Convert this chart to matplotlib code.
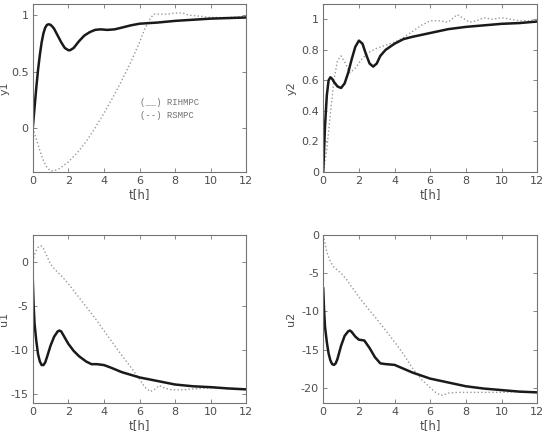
import matplotlib.pyplot as plt

# y1
t_y1_a = [0, 0.1, 0.2, 0.3, 0.4, 0.5, 0.6, 0.7, 0.8, 0.9, 1.0, 1.1, 1.2, 1.4, 1.6, 1.8, 2.0, 2.1, 2.3, 2.6,
          2.9, 3.2, 3.5, 3.8, 4.2, 4.6, 5.0, 5.5, 6.0, 7, 8, 9, 10, 11, 12]
y1_a = [0, 0.18, 0.36, 0.52, 0.65, 0.76, 0.84, 0.89, 0.915, 0.92, 0.915, 0.9, 0.88, 0.82, 0.76, 0.71, 0.69,
        0.69, 0.71, 0.77, 0.82, 0.85, 0.87, 0.875, 0.87, 0.875, 0.89, 0.91, 0.925, 0.935, 0.95, 0.96, 0.97,
        0.975, 0.98]
t_y1_b = [0, 0.2, 0.4, 0.6, 0.8, 1.0, 1.2, 1.5, 2.0, 2.5, 3.0, 3.5, 4.0, 4.5, 5.0, 5.5, 6.0, 6.3, 6.6, 6.8,
          7.2, 7.6, 8.0, 8.4, 8.8, 9.5, 10, 11, 12]
y1_b = [0, -0.1, -0.2, -0.29, -0.35, -0.38, -0.38, -0.36, -0.3, -0.22, -0.12, 0.0, 0.13, 0.27, 0.42, 0.58,
        0.76, 0.88, 0.97, 1.01, 1.01, 1.01, 1.02, 1.02, 1.0, 0.99, 0.98, 0.98, 0.99]

# y2
t_y2_a = [0, 0.05, 0.1, 0.2, 0.3, 0.4, 0.5, 0.6, 0.8, 1.0, 1.2, 1.4, 1.6, 1.8, 2.0, 2.2, 2.4, 2.6, 2.8, 3.0,
          3.2, 3.5, 4.0, 4.5, 5, 6, 7, 8, 9, 10, 11, 12]
y2_a = [0, 0.15, 0.3, 0.5, 0.6, 0.62, 0.61, 0.59, 0.56, 0.55, 0.58, 0.65, 0.74, 0.82, 0.86, 0.84, 0.77, 0.71,
        0.69, 0.71, 0.76, 0.80, 0.84, 0.87, 0.885, 0.91, 0.935, 0.95, 0.96, 0.97, 0.975, 0.985]
t_y2_b = [0, 0.2, 0.4, 0.6, 0.8, 1.0, 1.2, 1.5, 1.8, 2.1, 2.5, 3.0, 3.5, 4.0, 4.5, 5.0, 5.5, 6.0, 6.5, 7.0,
          7.3, 7.5, 7.8, 8.2, 8.6, 9.0, 9.5, 10, 10.5, 11, 11.5, 12]
y2_b = [0, 0.15, 0.38, 0.6, 0.73, 0.76, 0.72, 0.65, 0.68, 0.73, 0.78, 0.81, 0.83, 0.85, 0.88, 0.92, 0.96, 0.99,
        0.99, 0.98, 1.01, 1.03, 1.01, 0.98, 0.99, 1.01, 1.0, 1.01, 1.0, 0.99, 0.99, 1.0]

# u1
t_u1_a = [0, 0.05, 0.1, 0.2, 0.3, 0.4, 0.5, 0.6, 0.7, 0.8, 1.0, 1.2, 1.4, 1.5, 1.6, 1.8, 2.0, 2.3, 2.6, 3.0,
          3.3, 3.6, 4.0, 4.4, 5, 6, 7, 8, 9, 10, 11, 12]
u1_a = [-2, -5, -7, -9, -10.5, -11.3, -11.7, -11.7, -11.4, -10.8, -9.5, -8.5, -7.9, -7.8, -7.9, -8.6, -9.3,
        -10.1, -10.7, -11.3, -11.6, -11.6, -11.7, -12.0, -12.5, -13.1, -13.5, -13.9, -14.1, -14.2, -14.35, -14.45]
t_u1_b = [0, 0.1, 0.2, 0.3, 0.45, 0.6, 0.8, 1.0, 1.3, 1.6, 2.0, 2.5, 3.0, 3.5, 4.0, 4.5, 5.0, 5.5, 6.0, 6.3,
          6.6, 6.9, 7.1, 7.4, 7.8, 8.5, 9.0, 10, 11, 12]
u1_b = [0, 0.8, 1.3, 1.6, 1.8, 1.5, 0.6, -0.3, -1.0, -1.6, -2.5, -3.8, -5.1, -6.4, -7.8, -9.2, -10.6, -11.9,
        -13.3, -14.2, -14.7, -14.4, -14.0, -14.3, -14.5, -14.5, -14.4, -14.3, -14.3, -14.4]

# u2
t_u2_a = [0, 0.05, 0.1, 0.2, 0.3, 0.4, 0.5, 0.6, 0.7, 0.8, 1.0, 1.2, 1.4, 1.5, 1.6, 1.8, 2.0, 2.3, 2.6, 2.9,
          3.2, 3.5, 4.0, 4.5, 5, 6, 7, 8, 9, 10, 11, 12]
u2_a = [-7, -10, -12, -14, -15.5, -16.4, -16.9, -17.0, -16.8, -16.2, -14.5, -13.2, -12.6, -12.5, -12.7, -13.3,
        -13.7, -13.8, -14.8, -16.0, -16.8, -16.9, -17.0, -17.5, -18.0, -18.8, -19.3, -19.8, -20.1, -20.3,
        -20.5, -20.6]
t_u2_b = [0, 0.2, 0.4, 0.6, 0.8, 1.0, 1.3, 1.6, 2.0, 2.5, 3.0, 3.5, 4.0, 4.5, 5.0, 5.5, 6.0, 6.3, 6.6, 6.8,
          7.0, 7.5, 8, 9, 10, 11, 12]
u2_b = [0, -2.2, -3.5, -4.2, -4.6, -5.0, -5.8, -6.8, -8.1, -9.6, -11.0, -12.5, -14.0, -15.6, -17.4, -18.9,
        -20.0, -20.6, -21.0, -20.9, -20.7, -20.6, -20.6, -20.6, -20.6, -20.5, -20.6]

panels = [
    ("y1", t_y1_a, y1_a, t_y1_b, y1_b, (-0.39, 1.1), [0, 0.5, 1], ["0", "0.5", "1"]),
    ("y2", t_y2_a, y2_a, t_y2_b, y2_b, (0, 1.1), [0, 0.2, 0.4, 0.6, 0.8, 1],
     ["0", "0.2", "0.4", "0.6", "0.8", "1"]),
    ("u1", t_u1_a, u1_a, t_u1_b, u1_b, (-16, 3), [-15, -10, -5, 0], ["-15", "-10", "-5", "0"]),
    ("u2", t_u2_a, u2_a, t_u2_b, u2_b, (-22, 0), [-20, -15, -10, -5, 0], ["-20", "-15", "-10", "-5", "0"]),
]

rects = [
    [0.060, 0.610, 0.391, 0.381],
    [0.592, 0.610, 0.392, 0.381],
    [0.060, 0.086, 0.391, 0.381],
    [0.592, 0.086, 0.392, 0.381],
]
label_x = [-0.11, -0.125, -0.11, -0.125]

fig = plt.figure(figsize=(5.46, 4.41), dpi=100)
txt = '0.3'

for rect, lx, (name, ta, ya, tb, yb, ylim, yt, ytl) in zip(rects, label_x, panels):
    ax = fig.add_axes(rect)
    ax.plot(tb, yb, ':', color='0.6', lw=1.0)
    ax.plot(ta, ya, '-', color='0.1', lw=1.8)
    ax.set_xlim(0, 12)
    ax.set_ylim(*ylim)
    ax.set_xticks([0, 2, 4, 6, 8, 10, 12])
    ax.set_xticklabels(["0", "2", "4", "6", "8", "10", "12"])
    ax.set_yticks(yt)
    ax.set_yticklabels(ytl)
    ax.tick_params(direction='in', top=True, right=True, length=3, width=0.6,
                   colors='0.45', labelcolor=txt, labelsize=8, pad=3)
    for s in ax.spines.values():
        s.set_color('0.45')
        s.set_linewidth(0.8)
    ax.set_xlabel("t[h]", color=txt, fontsize=8.5, labelpad=1)
    ax.set_ylabel(name, color=txt, fontsize=8)
    ax.yaxis.set_label_coords(lx, 0.5)
    if name == "y1":
        ax.text(6.0, 0.225, "(__) RIHMPC", family='Liberation Mono', fontsize=6.5,
                color='0.45', va='center')
        ax.text(6.0, 0.11, "(--) RSMPC", family='Liberation Mono', fontsize=6.5,
                color='0.45', va='center')

fig.savefig("out.png", dpi=100)
